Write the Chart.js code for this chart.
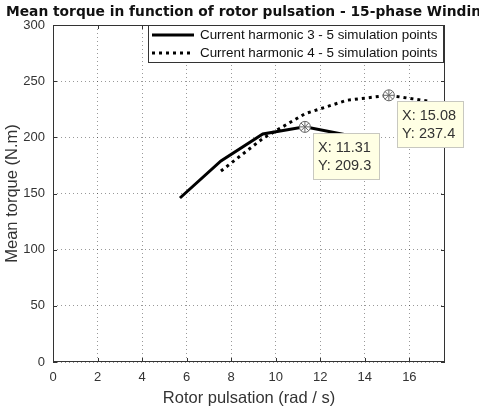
<!DOCTYPE html>
<html lang="en">
<head>
    <meta charset="UTF-8">
    <title>Mean torque in function of rotor pulsation</title>
    <script src="https://cdn.jsdelivr.net/npm/chart.js@4"></script>
    <style>
        html, body {
            margin: 0;
            padding: 0;
            background: #fff;
        }

        #wrap {
            width: 479px;
            height: 409px;
            position: relative;
        }
    </style>
</head>
<body>
    <div id="wrap"><canvas id="torqueChart"></canvas></div>

    <script>
        const chartTitle = 'Mean torque in function of rotor pulsation - 15-phase Winding';

        // current harmonic 3
        const pulsationH3 = [5.70, 7.54, 9.42, 11.31, 13.19];
        const torqueH3 = [146, 179, 203, 209.3, 202];

        // current harmonic 4
        const pulsationH4 = [7.54, 9.42, 11.31, 13.19, 15.08, 16.96];
        const torqueH4 = [170, 199, 221, 233, 237.4, 232];

        // data tips shown on the figure
        const tipPoints = [
            { x: 11.31, y: 209.3 },
            { x: 15.08, y: 237.4 }
        ];

        const xTicks = [0, 2, 4, 6, 8, 10, 12, 14, 16];
        const yTicks = [0, 50, 100, 150, 200, 250, 300];

        const font = '"Liberation Sans", Arial, sans-serif';

        // title, box, inward ticks, legend and data tips, drawn like a matlab figure
        const figurePlugin = {
            id: 'figure',
            afterDraw(chart) {
                const ctx = chart.ctx;
                const area = chart.chartArea;
                const xs = chart.scales.x;
                const ys = chart.scales.y;

                ctx.save();

                // title (runs off the right edge, like the original)
                ctx.fillStyle = '#111';
                ctx.font = 'bold 13.8px "DejaVu Sans", Verdana, sans-serif';
                ctx.textAlign = 'left';
                ctx.textBaseline = 'alphabetic';
                ctx.fillText(chartTitle, 6, 16);

                // box
                ctx.strokeStyle = '#333';
                ctx.lineWidth = 1;
                ctx.strokeRect(area.left + 0.5, area.top + 0.5, area.right - area.left - 1, area.bottom - area.top - 1);

                // inward tick marks
                ctx.beginPath();
                xTicks.forEach(v => {
                    const px = Math.round(xs.getPixelForValue(v)) + 0.5;
                    ctx.moveTo(px, area.bottom);
                    ctx.lineTo(px, area.bottom - 4);
                    ctx.moveTo(px, area.top);
                    ctx.lineTo(px, area.top + 4);
                });
                yTicks.forEach(v => {
                    const py = Math.round(ys.getPixelForValue(v)) + 0.5;
                    ctx.moveTo(area.left, py);
                    ctx.lineTo(area.left + 4, py);
                    ctx.moveTo(area.right, py);
                    ctx.lineTo(area.right - 4, py);
                });
                ctx.stroke();

                // legend
                const lx = 148, ly = 25, lw = 295, lh = 37;
                ctx.fillStyle = '#fff';
                ctx.fillRect(lx, ly, lw, lh);
                ctx.strokeStyle = '#333';
                ctx.strokeRect(lx + 0.5, ly + 0.5, lw, lh);
                ctx.font = '13.4px ' + font;
                ctx.textBaseline = 'middle';
                chart.data.datasets.forEach((ds, i) => {
                    const yy = ly + 10 + i * 18;
                    ctx.strokeStyle = '#000';
                    ctx.lineWidth = 3;
                    ctx.setLineDash(ds.borderDash || []);
                    ctx.beginPath();
                    ctx.moveTo(lx + 4, yy);
                    ctx.lineTo(lx + 46, yy);
                    ctx.stroke();
                    ctx.setLineDash([]);
                    ctx.fillStyle = '#111';
                    ctx.fillText(ds.label, lx + 52, yy + 0.5);
                });

                // data tips
                tipPoints.forEach(p => {
                    const px = xs.getPixelForValue(p.x);
                    const py = ys.getPixelForValue(p.y);

                    // marker
                    ctx.lineWidth = 1;
                    ctx.strokeStyle = '#666';
                    ctx.fillStyle = '#fff';
                    ctx.beginPath();
                    ctx.arc(px, py, 5.5, 0, Math.PI * 2);
                    ctx.fill();
                    ctx.stroke();
                    ctx.beginPath();
                    ctx.moveTo(px - 4, py - 4); ctx.lineTo(px + 4, py + 4);
                    ctx.moveTo(px + 4, py - 4); ctx.lineTo(px - 4, py + 4);
                    ctx.moveTo(px - 5.5, py); ctx.lineTo(px + 5.5, py);
                    ctx.moveTo(px, py - 5.5); ctx.lineTo(px, py + 5.5);
                    ctx.stroke();

                    // box
                    const bx = Math.round(px + 8), by = Math.round(py + 6);
                    ctx.fillStyle = '#ffffe4';
                    ctx.fillRect(bx, by, 66, 46);
                    ctx.strokeStyle = '#c8c8c0';
                    ctx.strokeRect(bx + 0.5, by + 0.5, 66, 46);
                    ctx.fillStyle = '#333';
                    ctx.font = '14.5px ' + font;
                    ctx.textBaseline = 'middle';
                    ctx.fillText('X: ' + p.x.toFixed(2), bx + 5, by + 15);
                    ctx.fillText('Y: ' + p.y.toFixed(1), bx + 5, by + 33);
                });

                ctx.restore();
            }
        };

        const ctx = document.getElementById('torqueChart').getContext('2d');
        new Chart(ctx, {
            type: 'line',
            data: {
                datasets: [{
                    label: 'Current harmonic 3 - 5 simulation points',
                    data: pulsationH3.map((v, i) => ({ x: v, y: torqueH3[i] })),
                    borderColor: '#000',
                    borderWidth: 3,
                    pointRadius: 0,
                    tension: 0
                }, {
                    label: 'Current harmonic 4 - 5 simulation points',
                    data: pulsationH4.map((v, i) => ({ x: v, y: torqueH4[i] })),
                    borderColor: '#000',
                    borderWidth: 3,
                    borderDash: [3, 4],
                    pointRadius: 0,
                    tension: 0
                }]
            },
            options: {
                responsive: true,
                maintainAspectRatio: false,
                animation: false,
                layout: {
                    padding: { top: 25, right: 34, left: 0, bottom: 0 }
                },
                plugins: {
                    legend: { display: false },
                    tooltip: { enabled: false },
                    title: { display: false }
                },
                scales: {
                    x: {
                        type: 'linear',
                        min: 0,
                        max: 17.6,
                        afterFit: scale => { scale.height = 47; },
                        afterBuildTicks: scale => { scale.ticks = xTicks.map(v => ({ value: v })); },
                        ticks: {
                            padding: 8,
                            color: '#333',
                            font: { family: font, size: 13 }
                        },
                        grid: {
                            color: 'rgba(0,0,0,0.4)',
                            drawTicks: false
                        },
                        border: { display: false, dash: [1, 3] },
                        title: {
                            display: true,
                            text: 'Rotor pulsation (rad / s)',
                            color: '#333',
                            font: { family: font, size: 16.5 },
                            padding: { top: 0, bottom: 1 }
                        }
                    },
                    y: {
                        min: 0,
                        max: 300,
                        afterFit: scale => { scale.width = 53; },
                        afterBuildTicks: scale => { scale.ticks = yTicks.map(v => ({ value: v })); },
                        ticks: {
                            padding: 8,
                            color: '#333',
                            font: { family: font, size: 13 }
                        },
                        grid: {
                            color: 'rgba(0,0,0,0.4)',
                            drawTicks: false
                        },
                        border: { display: false, dash: [1, 3] },
                        title: {
                            display: true,
                            text: 'Mean torque (N.m)',
                            color: '#333',
                            font: { family: font, size: 16.5 },
                            padding: { top: 3, bottom: 0 }
                        }
                    }
                }
            },
            plugins: [figurePlugin]
        });
    </script>
</body>
</html>
